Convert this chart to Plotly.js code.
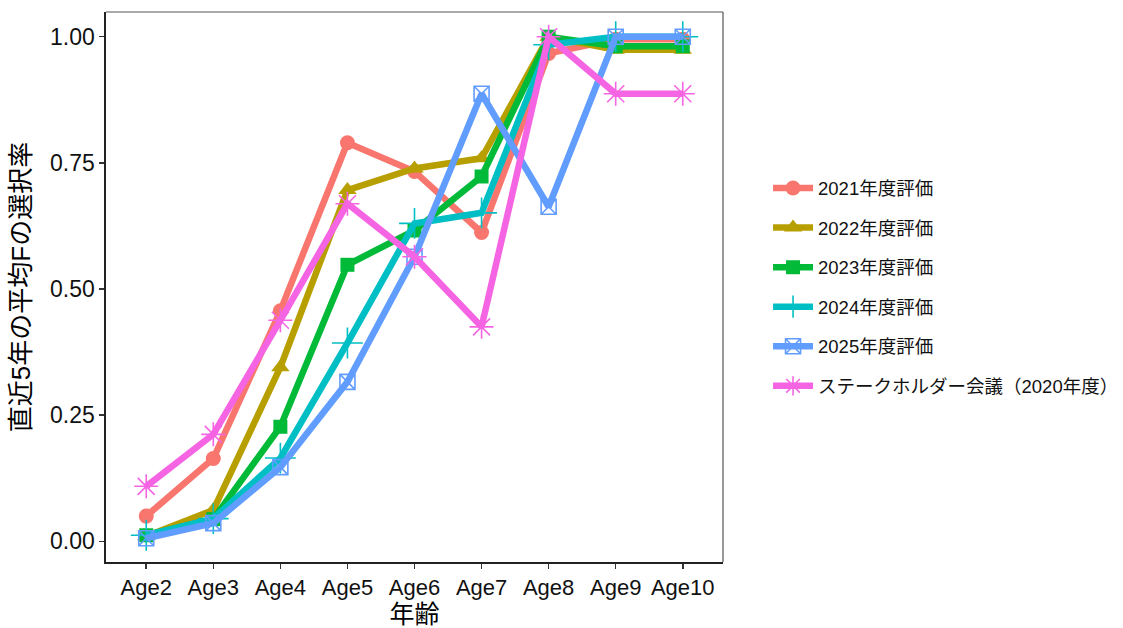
<!DOCTYPE html>
<html>
<head>
<meta charset="utf-8">
<script src="https://cdn.plot.ly/plotly-3.0.1.min.js"></script>
<style>html,body{margin:0;padding:0;background:#fff;}#chart{width:1123px;height:628px;}</style>
</head>
<body>
<div id="chart"></div>
<script>
const ages = ["Age2","Age3","Age4","Age5","Age6","Age7","Age8","Age9","Age10"];
const seriesNames = ["2021年度評価","2022年度評価","2023年度評価","2024年度評価","2025年度評価","ステークホルダー会議（2020年度）"];
const v2021 = [0.050, 0.164, 0.457, 0.790, 0.733, 0.612, 0.967, 0.995, 0.995];
const v2022 = [0.010, 0.062, 0.345, 0.696, 0.739, 0.759, 1.000, 0.974, 0.974];
const v2023 = [0.012, 0.044, 0.227, 0.548, 0.616, 0.723, 1.000, 0.981, 0.981];
const v2024 = [0.012, 0.045, 0.165, 0.393, 0.630, 0.651, 0.984, 1.000, 1.000];
const v2025 = [0.006, 0.036, 0.147, 0.316, 0.564, 0.887, 0.663, 1.000, 1.000];
const vStake = [0.109, 0.212, 0.438, 0.669, 0.564, 0.425, 1.000, 0.887, 0.887];
const yTicks = [0, 0.25, 0.5, 0.75, 1.0];
const yTickText = ["0.00","0.25","0.50","0.75","1.00"];

const colors = ["#F8766D","#B79F00","#00BA38","#00BFC4","#619CFF","#F564E3"];
const symbols = ["circle","triangle-up","square","cross-thin-open","square-x-open","asterisk-open"];
const sizes = [15, 16, 14, 22, 15, 20];
const mlw = [0, 0, 0, 1.6, 1.6, 1.6];
const allVals = [v2021, v2022, v2023, v2024, v2025, vStake];

const traces = allVals.map((vals, i) => ({
  x: ages, y: vals, type: "scatter", mode: "lines+markers",
  name: seriesNames[i], legendgroup: "g" + i,
  line: {color: colors[i], width: 6.5},
  marker: {symbol: symbols[i], size: sizes[i], color: colors[i], line: {color: colors[i], width: mlw[i]}},
  cliponaxis: false
}));

const fontMain = "Liberation Sans, Arial, 'Noto Sans CJK JP', sans-serif";
const layout = {
  width: 1123, height: 628,
  margin: {l: 106, r: 400, t: 12, b: 66, autoexpand: false},
  paper_bgcolor: "#fff", plot_bgcolor: "#fff",
  font: {family: fontMain, color: "#000"},
  xaxis: {
    type: "category", range: [-0.6, 8.6], showgrid: false, zeroline: false,
    showline: true, linecolor: "#222", linewidth: 1.6,
    ticks: "outside", ticklen: 5, tickwidth: 1.5, tickcolor: "#333",
    tickfont: {size: 22, color: "#111"},
    title: {text: "年齢", font: {size: 25, color: "#000"}, standoff: 4}
  },
  yaxis: {
    range: [-0.041, 1.049], showgrid: false, zeroline: false,
    showline: true, linecolor: "#222", linewidth: 1.6,
    ticks: "outside", ticklen: 5, tickwidth: 1.5, tickcolor: "#333",
    tickvals: yTicks, ticktext: yTickText,
    tickfont: {size: 23, color: "#111"},
    title: {text: "直近5年の平均Fの選択率", font: {size: 26, color: "#000"}, standoff: 12}
  },
  shapes: [
    {type: "line", xref: "paper", yref: "paper", x0: 0, x1: 1, y0: 1, y1: 1, line: {color: "#555", width: 1.2}},
    {type: "line", xref: "paper", yref: "paper", x0: 1, x1: 1, y0: 0, y1: 1, line: {color: "#555", width: 1.2}}
  ],
  legend: {
    x: 1.073, xanchor: "left", y: 0.5, yanchor: "middle",
    font: {size: 18.5, color: "#111"},
    tracegroupgap: 12.5, itemwidth: 40, bgcolor: "rgba(0,0,0,0)"
  },
  showlegend: true
};

Plotly.newPlot("chart", traces, layout, {displayModeBar: false, staticPlot: true});
</script>
</body>
</html>
